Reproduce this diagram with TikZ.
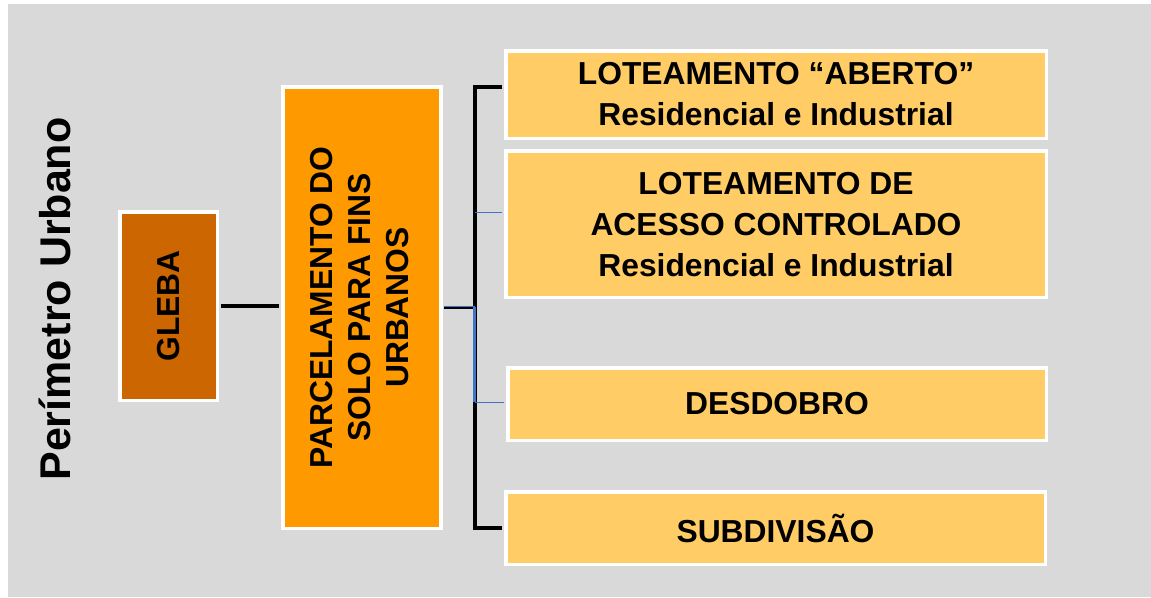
\documentclass[tikz,border=0pt]{standalone}
\usepackage{fontspec}
\setmainfont{Liberation Sans}
\definecolor{bggray}{HTML}{D9D9D9}
\definecolor{glebac}{HTML}{CC6600}
\definecolor{parcc}{HTML}{FF9900}
\definecolor{boxc}{HTML}{FFCC66}
\definecolor{linkblue}{HTML}{4472C4}
\tikzset{
  box/.style={draw=white, line width=3.5pt, inner sep=0pt, font=\bfseries\fontsize{31.8}{41}\selectfont, align=center, text=black},
  vtext/.style={rotate=90, inner sep=0pt, align=center, font=\bfseries\fontsize{31.8}{38}\selectfont, text=black},
  blackline/.style={draw=black, line width=3.8pt},
  blueline/.style={draw=linkblue, line width=2.6pt}
}
\begin{document}
\begin{tikzpicture}[x=1pt,y=-1pt]
\useasboundingbox (0,0) rectangle (1151,597);
\fill[bggray] (8,4) rectangle (1151,597);
% title
\node[rotate=90, anchor=base, inner sep=0pt, font=\bfseries\fontsize{43}{50}\selectfont] (title) at (70,299) {Perímetro Urbano};
% boxes
\node[box, fill=glebac, minimum width=97.5pt, minimum height=188.5pt] (gleba) at (168.8,306) {};
\node[vtext] (glebatext) at (gleba) {GLEBA};
\node[box, fill=parcc, minimum width=158pt, minimum height=441.5pt] (parc) at (361.8,307.5) {};
\node[vtext] (parctext) at (360,307.5) {PARCELAMENTO DO\\SOLO PARA FINS\\URBANOS};
\node[box, fill=boxc, minimum width=540.5pt, minimum height=87.5pt] (b1) at (776,94.5) {LOTEAMENTO “ABERTO”\\Residencial e Industrial};
\node[box, fill=boxc, minimum width=540.5pt, minimum height=146.2pt] (b2) at (776,224.2) {LOTEAMENTO DE\\ACESSO CONTROLADO\\Residencial e Industrial};
\node[box, fill=boxc, minimum width=538.5pt, minimum height=72.5pt] (b3) at (777,404) {DESDOBRO};
\node[box, fill=boxc, minimum width=539.5pt, minimum height=72.5pt] (b4) at (775.5,528) {SUBDIVISÃO};
% connectors
\coordinate (btop) at (474.7,87.3);
\coordinate (bbot) at (474.7,527.7);
\coordinate (bmid) at (474.7,307.3);
\coordinate (bb2) at (474.7,212.3);
\coordinate (bb3) at (474.7,402.3);
\draw[blackline] ([xshift=1.75pt]gleba.east) -- ([xshift=-1.75pt]gleba.east -| parc.west);
\draw[blackline] ([xshift=-1.75pt]btop -| b1.west) -- (btop) -- (bbot) -- ([xshift=-1.75pt]bbot -| b4.west);
\draw[blackline, line width=3pt] ([xshift=1.75pt]bmid -| parc.east) -- (bmid);
\draw[blueline] (bmid) -- (bb3);
\draw[blueline, line width=1.5pt] ([xshift=1.75pt,yshift=0.8pt]bmid -| parc.east) -- ([yshift=0.8pt]bmid);
\draw[blueline, line width=1.5pt] (bb3) -- ([xshift=-1.75pt]bb3 -| b3.west);
\draw[blueline, line width=1.3pt] (bb2) -- ([xshift=-1.75pt]bb2 -| b2.west);
\end{tikzpicture}
\end{document}
